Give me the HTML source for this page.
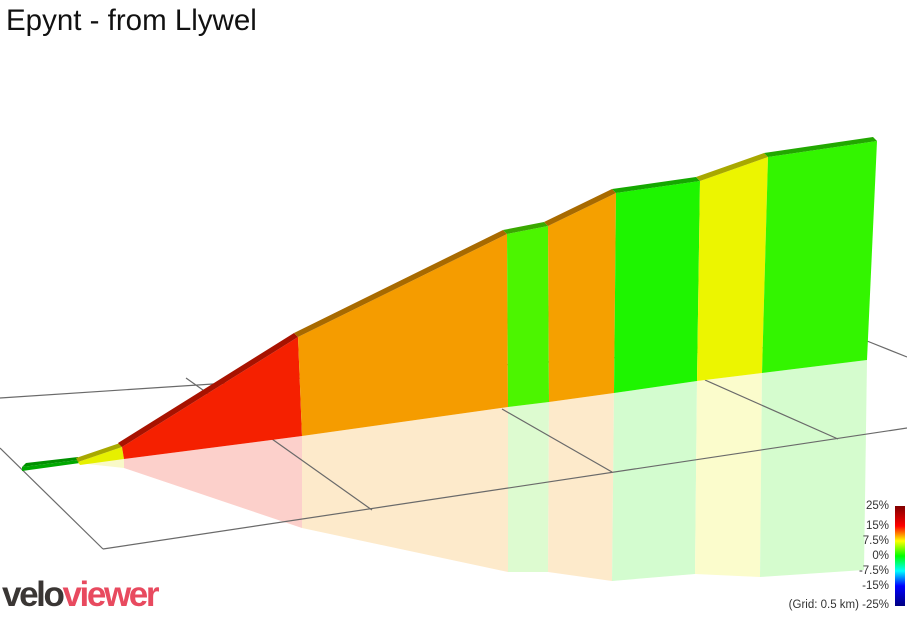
<!DOCTYPE html>
<html><head><meta charset="utf-8"><style>
body{margin:0;background:#fff;width:907px;height:613px;overflow:hidden;font-family:"Liberation Sans",sans-serif}
</style></head><body>
<svg width="907" height="613" viewBox="0 0 907 613" xmlns="http://www.w3.org/2000/svg">
<text x="6" y="30" font-family="Liberation Sans, sans-serif" font-size="29.5" fill="#111">Epynt - from Llywel</text>
<g>
<polygon points="78,463 124,459 124,468" fill="#f9f9c8"/>
<polygon points="124,459 302,436 302,528 124,468" fill="#fcd0cb"/>
<polygon points="302,436 508,407 508,572 302,528" fill="#fdeacb"/>
<polygon points="508,407 549,402 548,572 508,572" fill="#ddfbd0"/>
<polygon points="549,402 614,393 612,581 548,572" fill="#fdeacb"/>
<polygon points="614,393 697,381 695,574 612,581" fill="#d3fccf"/>
<polygon points="697,381 762,373 760,577 695,574" fill="#fbfccc"/>
<polygon points="762,373 867,360 864,570 760,577" fill="#d5fcce"/>
</g>
<g stroke="#6a6a6a" stroke-width="1.2" fill="none">
<line x1="0" y1="398" x2="867" y2="341"/>
<line x1="867" y1="341" x2="907" y2="357"/>
<line x1="0" y1="448" x2="103" y2="549"/>
<line x1="103" y1="549" x2="907" y2="428"/>
<line x1="186" y1="378" x2="372" y2="510"/>
<line x1="502" y1="409" x2="612" y2="472"/>
<line x1="705" y1="380" x2="838" y2="439"/>
</g>
<polygon points="22,467 78,460 80,463 22,471" fill="#00a800"/>
<polygon points="78,462 122,447 124,459 80,465" fill="#e6f000"/>
<polygon points="122,447 298,337 302,436 124,459" fill="#f52000"/>
<polygon points="298,337 507,234 508,407 302,436" fill="#f59c00"/>
<polygon points="507,234 548,226 549,402 508,407" fill="#4cf500"/>
<polygon points="548,226 616,193 614,393 549,402" fill="#f5a000"/>
<polygon points="616,193 700,181 697,381 614,393" fill="#1ef500"/>
<polygon points="700,181 768,157 762,373 697,381" fill="#ecf500"/>
<polygon points="768,157 877,141 867,360 762,373" fill="#33f500"/>
<g>
<polygon points="22,467 78,460 78,457 26,463" fill="#009000"/>
<polygon points="78,462 122,447 120,443 76,458" fill="#a8a800"/>
<polygon points="122,447 298,337 294,333 118,443" fill="#a81200"/>
<polygon points="298,337 507,234 503,230 294,333" fill="#a86a00"/>
<polygon points="507,234 548,226 544,222 503,230" fill="#3aa800"/>
<polygon points="548,226 616,193 612,189 544,222" fill="#a86a00"/>
<polygon points="616,193 700,181 696,177 612,189" fill="#15a800"/>
<polygon points="700,181 768,157 764,153 696,177" fill="#a8a800"/>
<polygon points="768,157 877,141 873,137 764,153" fill="#22a800"/>
</g>
<defs><linearGradient id="lg" x1="0" y1="0" x2="0" y2="1">
<stop offset="0" stop-color="#800000"/><stop offset="0.2" stop-color="#ff0000"/>
<stop offset="0.35" stop-color="#ffff00"/><stop offset="0.5" stop-color="#00ff00"/>
<stop offset="0.65" stop-color="#00ffff"/><stop offset="0.8" stop-color="#0000ff"/>
<stop offset="1" stop-color="#000080"/></linearGradient></defs>
<rect x="895" y="506" width="10" height="100" fill="url(#lg)"/>
<g font-family="Liberation Sans, sans-serif" font-size="11.5" fill="#333" text-anchor="end">
<text x="889" y="509">25%</text>
<text x="889" y="529">15%</text>
<text x="889" y="544">7.5%</text>
<text x="889" y="559">0%</text>
<text x="889" y="574">-7.5%</text>
<text x="889" y="589">-15%</text>
<text x="889" y="608">(Grid: 0.5 km) -25%</text>
</g>
<text x="2" y="606" font-family="Liberation Sans, sans-serif" font-size="35" font-weight="bold" letter-spacing="-2.5" textLength="155"><tspan fill="#3a3634">velo</tspan><tspan fill="#e84a5f">viewer</tspan></text>
</svg>
</body></html>
